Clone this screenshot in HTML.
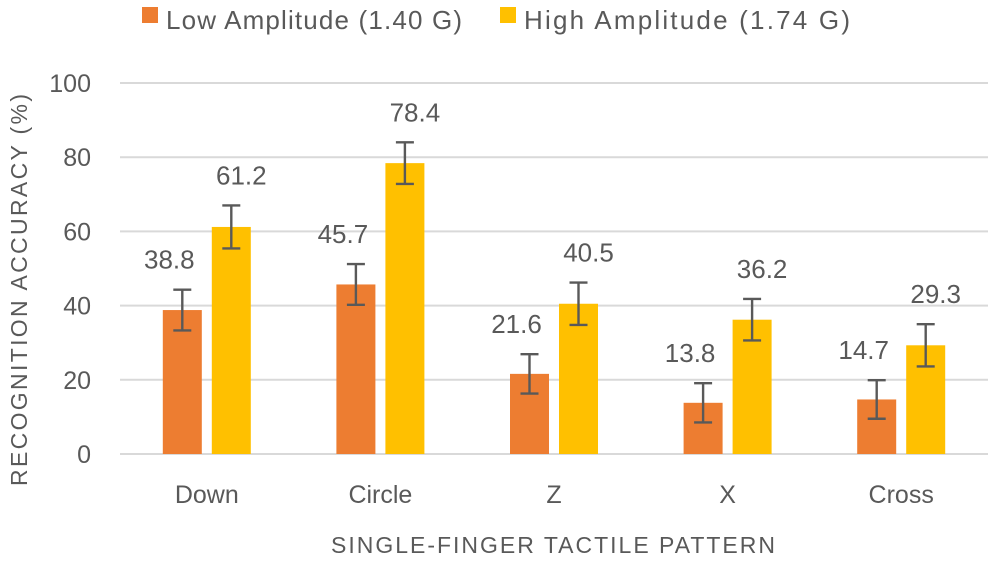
<!DOCTYPE html>
<html><head><meta charset="utf-8"><style>
body{margin:0;background:#fff;}
svg text{font-family:"Liberation Sans",sans-serif;fill:#595959;}
</style></head><body>
<svg id="c" width="992" height="558">
<g>
<rect x="142" y="7" width="16" height="16" fill="#ED7D31"/>
<text x="166" y="29" font-size="26" textLength="296">Low Amplitude (1.40 G)</text>
<rect x="500" y="7" width="16" height="16" fill="#FFC000"/>
<text x="524" y="29" font-size="26" textLength="326">High Amplitude (1.74 G)</text>
</g>
<text transform="translate(27,290) rotate(-90)" text-anchor="middle" font-size="23" textLength="392">RECOGNITION ACCURACY (%)</text>
<text x="553" y="553" text-anchor="middle" font-size="23" textLength="444">SINGLE-FINGER TACTILE PATTERN</text>
<g id="grid"></g><g id="bars"></g>
</svg>
<script>
const categories=["Down","Circle","Z","X","Cross"];
const lowValues=[38.8,45.7,21.6,13.8,14.7];
const highValues=[61.2,78.4,40.5,36.2,29.3];
const lowErr=[5.5,5.5,5.3,5.3,5.2];
const highErr=[5.8,5.6,5.7,5.6,5.7];
const yTicks=[0,20,40,60,80,100];
const NS="http://www.w3.org/2000/svg";
const x0=120,x1=988,yb=454,yt=83;
const y=v=>yb-(v/100)*(yb-yt);
const band=(x1-x0)/categories.length;
const cx=i=>x0+band*(i+0.5);
function mk(t,a,p){const e=document.createElementNS(NS,t);for(const k in a)e.setAttribute(k,a[k]);p.appendChild(e);return e;}
const g=document.getElementById('grid'),b=document.getElementById('bars');
yTicks.forEach(v=>{
 const l=mk('line',{x1:x0,x2:x1,y1:y(v),y2:y(v),stroke:'#d9d9d9','stroke-width':2},g);
 
 
 const t=mk('text',{x:91,y:y(v)+9,'text-anchor':'end','font-size':25},g);t.textContent=v;
 
 
});
const bw=39,gap=10;
categories.forEach((c,i)=>{
 const t=mk('text',{x:cx(i),y:503,'text-anchor':'middle','font-size':25},b);t.textContent=c;
 
 
 [[lowValues,lowErr,'#ED7D31',-1,'low'],[highValues,highErr,'#FFC000',1,'high']].forEach(([vals,errs,col,s,nm])=>{
  const v=vals[i],e=errs[i];
  const bx=s<0?cx(i)-gap/2-bw:cx(i)+gap/2;
  const r=mk('rect',{x:bx,y:y(v),width:bw,height:yb-y(v),fill:col},b);
  
  
  const m=bx+bw/2;
  const eg=mk('path',{d:`M${m},${y(v+e)}V${y(v-e)}M${m-9},${y(v+e)}h18M${m-9},${y(v-e)}h18`,stroke:'#595959','stroke-width':2.4,fill:'none'},b);
  
  
  const lb=mk('text',{x:m+(s<0?-13:10),y:y(v+e)-21,'text-anchor':'middle','font-size':26},b);lb.textContent=v.toFixed(1);
  
  
 });
});
</script>
</body></html>
